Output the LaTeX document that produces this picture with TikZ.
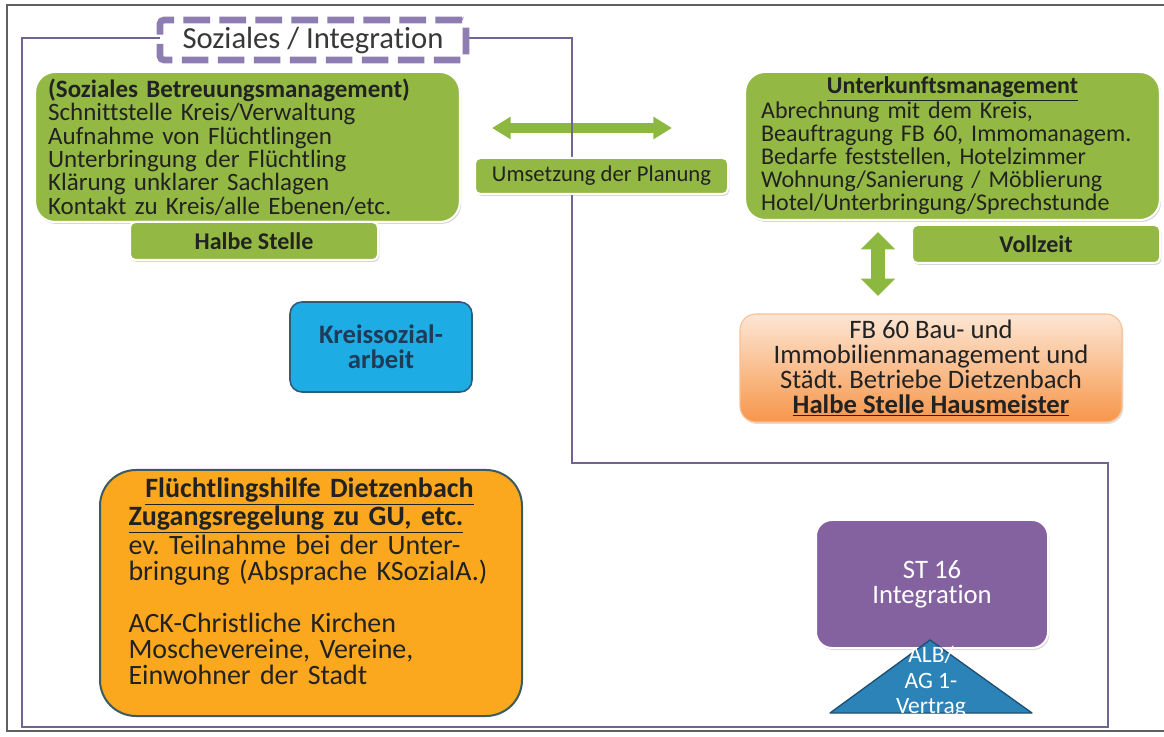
\documentclass[tikz,border=0pt]{standalone}
\usepackage{fontspec}
\setmainfont{Carlito}[Ligatures=NoCommon]
\usetikzlibrary{arrows.meta,shadows}
\definecolor{grn}{HTML}{94B844}
\definecolor{grnarrow}{HTML}{8DB83F}
\definecolor{txt}{HTML}{222222}
\definecolor{purpline}{HTML}{6F6590}
\definecolor{dashpurp}{HTML}{8E7DB0}
\definecolor{kreisfill}{HTML}{1DADE4}
\definecolor{kreisdraw}{HTML}{2F5C7A}
\definecolor{kreistext}{HTML}{1F3B57}
\definecolor{orgfill}{HTML}{FBA81E}
\definecolor{orgdraw}{HTML}{3B5B5E}
\definecolor{fbtop}{HTML}{FDE6D4}
\definecolor{fbbot}{HTML}{F7964A}
\definecolor{stfill}{HTML}{8462A0}
\definecolor{trifill}{HTML}{2B83B8}
\definecolor{tridraw}{HTML}{1E4F73}
\frenchspacing
\begin{document}
\begin{tikzpicture}[x=0.75pt,y=-0.75pt,
  greenbox/.style={rounded corners=15pt, fill=grn, draw=white, line width=1.5pt,
    drop shadow={shadow xshift=1pt, shadow yshift=-1.5pt, opacity=0.3},
    text=txt, inner ysep=0pt},
  smallgreen/.style={greenbox, rounded corners=4pt, align=center, inner sep=0pt},
  garrow/.style={grnarrow, line width=7pt, {Triangle[length=14pt,width=16pt]}-{Triangle[length=14pt,width=16pt]}},
  varrow/.style={grnarrow, line width=10.5pt, {Triangle[length=13pt,width=25pt]}-{Triangle[length=13pt,width=25pt]}},
]
\useasboundingbox (0,0) rectangle (1164,737);
\fill[white] (0,0) rectangle (1164,737);
% outer gray frame
\draw[gray!75!black, line width=1pt] (1170,5) -- (7,5) -- (7,731) -- (1170,731);

% arrows
\coordinate (hl) at (492,128);
\coordinate (hr) at (672,128);
\draw[garrow] (hl) -- (hr);
\coordinate (vt) at (878,232);
\coordinate (vb) at (878,296);
\draw[varrow] (vt) -- (vb);

% purple outline
\draw[purpline, line width=2pt] (22,38) -- (572,38) -- (572,463) -- (1108,463) -- (1108,727) -- (22,727) -- cycle;

% left green box
\node[greenbox, text width=299pt, inner xsep=9.75pt, minimum height=112.5pt, align=left,
  font=\fontsize{18.75}{17.6}\selectfont] (soz) at (247.5,147)
  {\textbf{(Soziales Betreuungsmanagement)}\\
   Schnittstelle Kreis/Verwaltung\\
   Aufnahme von Flüchtlingen\\
   Unterbringung der Flüchtling\\
   Klärung unklarer Sachlagen\\
   Kontakt zu Kreis/alle Ebenen/etc.};
\node[smallgreen, minimum width=186pt, minimum height=28.5pt,
  font=\fontsize{18}{20}\selectfont\bfseries] (halb) at (254,241) {Halbe Stelle};

% Umsetzung
\node[smallgreen, minimum width=189.75pt, minimum height=27pt,
  font=\fontsize{17}{19}\selectfont] (ums) at (601.5,176) {Umsetzung der Planung};

% Unterkunftsmanagement
\node[greenbox, text width=287pt, inner xsep=12pt, minimum height=111pt, align=left,
  font=\fontsize{18}{17.25}\selectfont] (unt) at (952.5,146)
  {\makebox[\linewidth]{\textbf{\underline{Unterkunftsmanagement}}}\\
   Abrechnung mit dem Kreis,\\
   Beauftragung FB 60, Immomanagem.\\
   Bedarfe feststellen, Hotelzimmer\\
   Wohnung/Sanierung / Möblierung\\
   Hotel/Unterbringung/Sprechstunde};
\node[smallgreen, minimum width=186pt, minimum height=28.5pt,
  font=\fontsize{18}{20}\selectfont\bfseries] (voll) at (1036,244) {Vollzeit};

% FB 60
\node[rounded corners=12pt, top color=fbtop, bottom color=fbbot, draw=fbbot!60!white, line width=0.8pt,
  drop shadow={shadow xshift=1pt, shadow yshift=-1.5pt, opacity=0.25},
  minimum width=286.5pt, minimum height=81pt, align=center, inner sep=0pt, text=txt,
  font=\fontsize{20}{18.75}\selectfont] (fb) at (931,368)
  {FB 60 Bau- und\\ Immobilienmanagement und\\ Städt. Betriebe Dietzenbach\\ \textbf{\underline{Halbe Stelle Hausmeister}}};

% Kreissozialarbeit
\node[rounded corners=9pt, fill=kreisfill, draw=kreisdraw, line width=1.2pt,
  minimum width=136.5pt, minimum height=67.5pt, align=center, inner sep=0pt, text=kreistext,
  font=\fontsize{20}{18.75}\selectfont\bfseries] (kreis) at (381,347)
  {Kreissozial-\\arbeit};

% Fluechtlingshilfe
\node[rounded corners=27pt, fill=orgfill, draw=orgdraw, line width=1.5pt,
  minimum width=316.5pt, minimum height=184.5pt] (fh) at (311,593) {};
\node[text width=276pt, inner sep=0pt, align=left, text=txt,
  font=\fontsize{21}{19.5}\selectfont] (fhtext) at (312.5,581)
  {\hspace*{0.6em}\textbf{\underline{Flüchtlingshilfe Dietzenbach}}\\
   \textbf{\underline{Zugangsregelung zu GU, etc.}}\\
   ev. Teilnahme bei der Unter-\\
   bringung (Absprache KSozialA.)\\[19.5pt]
   ACK-Christliche Kirchen\\
   Moschevereine, Vereine,\\
   Einwohner der Stadt};

% ST 16
\node[rounded corners=12pt, fill=stfill, draw=white, line width=1.5pt,
  drop shadow={shadow xshift=1pt, shadow yshift=-1.5pt, opacity=0.3},
  minimum width=174pt, minimum height=96pt, align=center, inner sep=0pt, text=white,
  font=\fontsize{20}{19}\selectfont] (st) at (932,584)
  {ST 16\\Integration};

% triangle
\coordinate (ta) at (930,640);
\coordinate (tl) at (830,713);
\coordinate (tr) at (1032,713);
\filldraw[fill=trifill, draw=tridraw, line width=1pt, line join=round] (ta) -- (tl) -- (tr) -- cycle;
\node[align=center, text=white, inner sep=0pt, font=\fontsize{17.6}{19}\selectfont] (alb) at (931,682)
  {ALB/\\AG 1-\\Vertrag};

% title
\node[fill=white, draw=dashpurp, line width=5pt, dash pattern=on 20pt off 7pt, rounded corners=3pt,
  minimum width=229.5pt, minimum height=30pt, inner sep=0pt, text=txt!90!white,
  font=\fontsize{23}{26}\selectfont] (ttl) at (313,40) {Soziales / Integration};
\end{tikzpicture}
\end{document}
